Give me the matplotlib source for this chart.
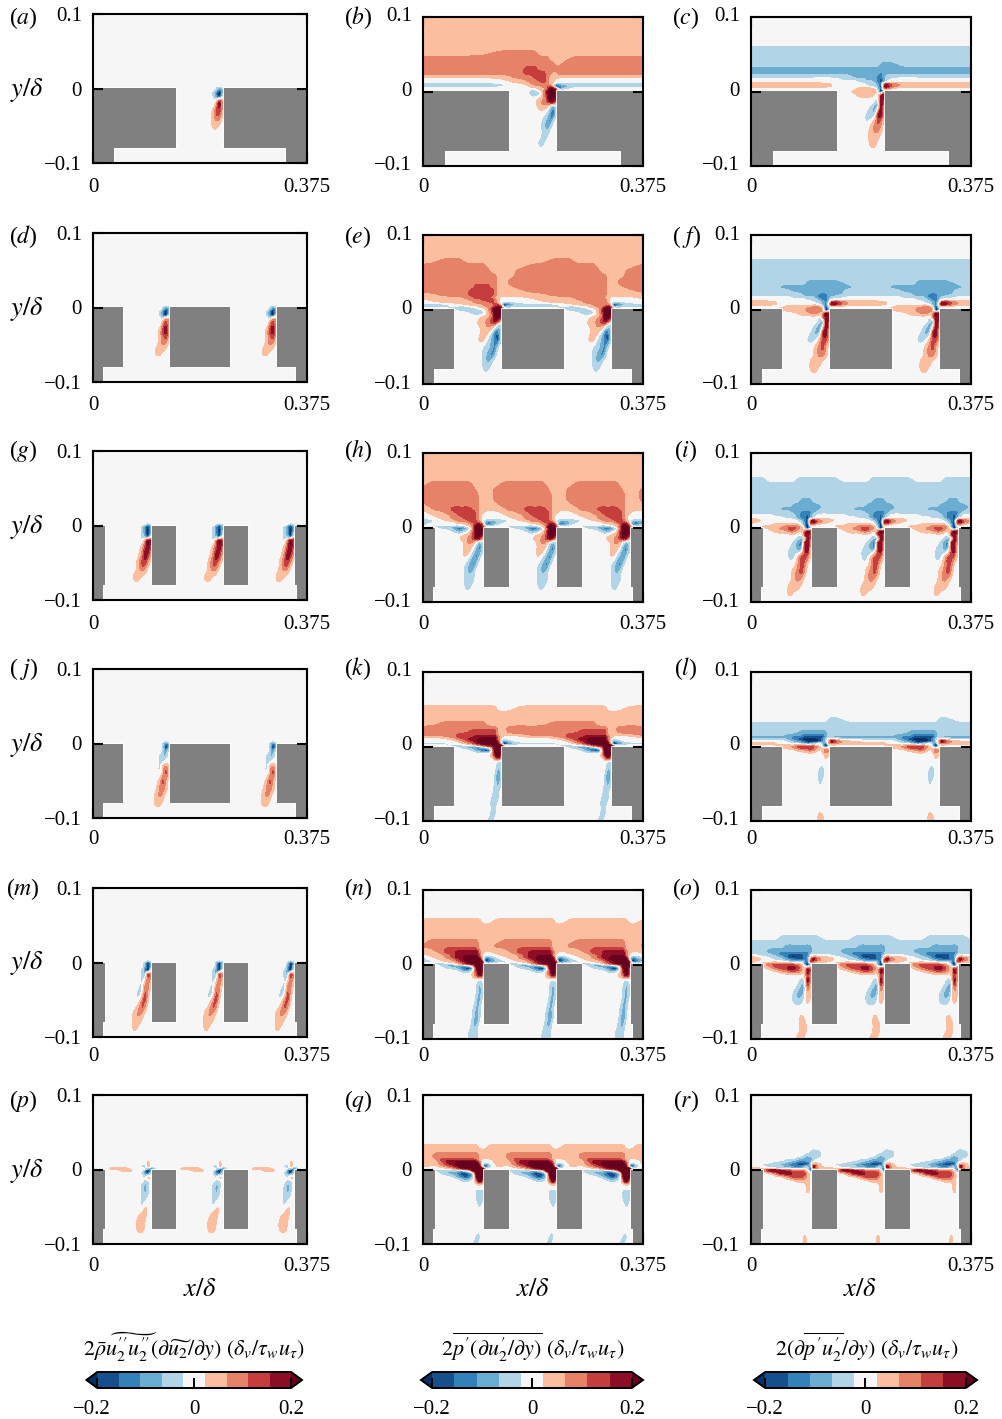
import matplotlib
matplotlib.use("Agg")
import matplotlib.pyplot as plt
import numpy as np
from matplotlib.colors import ListedColormap
from matplotlib.patches import Rectangle
from matplotlib.transforms import ScaledTranslation

plt.rcParams["font.family"] = ["Liberation Serif", "DejaVu Serif"]
plt.rcParams["mathtext.fontset"] = "stix"

W, H = 1003, 1419

# contour bands, colours from the colour bar
BAND_COLORS = ["#15508c", "#3480b9", "#6bacd1", "#b1d5e7", "#f6f6f6",
               "#fbbfa0", "#e58268", "#c53e3d", "#8c0d25"]
UNDER_COLOR = "#053061"
OVER_COLOR = "#67001f"
CBAR_TICKS = [-0.2, 0, 0.2]
CBAR_LABELS = ["\u22120.2", "0", "0.2"]

# wall normal positions of the rows in every field below
ROW_Y = [0.1, 0.072, 0.065, 0.058, 0.051, 0.044, 0.037, 0.03, 0.025, 0.02,
         0.016, 0.013, 0.01, 0.007, 0.004, 0.001, -0.001, -0.005, -0.01,
         -0.015, -0.02, -0.03, -0.04, -0.05, -0.06, -0.07, -0.08, -0.09, -0.1]

# columns relative to the slot centre, pixels of a 220 px wide panel
COLS_ONE = [-110, -80, -50, -35, -24, -18, -12, -6, -2, 2, 6, 10, 14, 17, 20, 23, 26, 32, 42, 60, 85]
COLS_TWO = [-55, -45, -35, -24, -18, -12, -6, -2, 2, 6, 10, 14, 17, 20, 23, 26, 32, 42]
COLS_THREE = [-36, -29, -24, -18, -12, -6, -2, 2, 6, 10, 14, 17, 20, 23, 26, 30]

# one period of each field, read off by eye
# 1-5 = red bands, a-e = blue bands, . = zero band, short rows are zero at the end
FIELD_A = [""] * 15 + [
    ".............aba", ".............acb", "............aceb", "............acea",
    ".............a21", "............a141", "............1331", "............122",
    "............11"]

FIELD_B = ["1" * 21] * 4 + [
    "111" + "2" * 7 + "1" * 11,
    "2" * 13 + "11111" + "222",
    "2" * 15 + "11" + "2222",
    "2222222" + "333" + "2" * 11,
    "2222222" + "33333" + "22" + "11" + "22222",
    "11111" + "2222" + "333" + "2" + "11111111",
    "....11122233211......",
    ".....111222" + "32" + "11......",
    "aaaa...112222" + "1." + "bb" + "aaaa",
    "aaaa....111" + "22" + "31dcb" + "aaa",
    "..........112" + "442ca...",
    "........aa.13553.....",
    "........aaa14553.....",
    "........aaa13553.....",
    "..........113553",
    "..........122331",
    "..........111aba",
    "............abda",
    "...........abca",
    "...........aba",
    "...........aa",
    "..........aa"]

FIELD_C = ["." * 21] * 3 + ["a" * 21] * 3 + [
    "a" * 14 + "bbbb" + "aaa",
    "b" * 21,
    "b" * 14 + "c" + "b" * 6,
    "aaaaaaa" + "bbbbbb" + "cc" + "b" + "aaaaa",
    "....." + "aaaaa" + "bbb" + "cdb" + "a" + "....",
    "........" + "aaaa" + "bcdb" + ".....",
    "1111" + "......" + "aaabc" + "232111",
    "1111" + "......" + ".aabd" + "342111",
    "........1111.ad22....",
    ".......111111aea.....",
    ".......111111.d2",
    "........1111..34",
    ".............a43",
    "............ab42",
    "...........abb41",
    "..........aab341",
    "..........a.132",
    "...........1221",
    "...........111",
    "...........11"]

FIELD_D = [""] * 15 + [
    "............aba", "............acb", "...........aceb", "...........acea",
    "............a21", "...........a131", "...........1341", "...........1231",
    "...........121", "..........11"]

FIELD_E = ["1" * 18] * 2 + [
    "11222" + "1" * 13,
    "2" * 10 + "1" * 8,
    "2" * 11 + "111111" + "2",
    "2" * 13 + "1111" + "2",
    "2" * 13 + "111" + "22",
    "2222222" + "3333" + "22" + "1111" + "2",
    "222222" + "333333" + "2" + "11111",
    "11" + "2222" + "333333" + "2" + "11111",
    "11111" + "22" + "3333" + "2" + "11" + "....",
    ".11111" + "222" + "333" + "2" + "1" + "....",
    ".." + "11111" + "2222" + "3" + "2" + "1" + "." + "aa" + ".",
    "aaa" + ".." + "1111" + "222" + "3" + "2" + "." + "dba",
    "aaa" + ".aa" + ".." + "11" + "22" + "343" + "caa",
    "..." + "aaaaa" + ".." + "1" + "3" + "55" + "4" + "...",
    "...." + "aaaaa" + "." + "1" + "3" + "55" + "4" + "...",
    "......aaaa12554",
    ".........11" + "2553",
    "........1123431",
    "........11222aa",
    ".........11acca",
    "........11abcda",
    ".........aabca",
    ".........abcb",
    ".........aba",
    ".........aa"]

FIELD_F = ["." * 18] * 2 + ["a" * 18] * 4 + [
    "a" * 8 + "b" * 9 + "a",
    "aaa" + "b" * 15,
    "aaaaa" + "b" * 12 + "a",
    "a" * 7 + "bbbb" + "ccc" + "bbb" + "a",
    "....." + "aaaaa" + "b" + "ccc" + "b" + "aa" + ".",
    "........" + "aaa" + "b" + "cc" + "b" + "...",
    "111" + "......." + "aa" + "bca" + "33" + "1",
    "111" + "........" + "abc" + "1431",
    "...." + "111111" + "21ada1" + "..",
    "..." + "11111" + "2222" + "1eb" + "...",
    "...." + "1111" + "2222" + "1ea",
    "......111221143",
    "...........a243",
    "...........ab43",
    "..........abb42",
    ".........abb341",
    "........aaa1331",
    "..........1231",
    "..........1221",
    ".........111",
    ".........11"]

FIELD_G = [""] * 15 + [
    "...........aca", "..........acdb", "..........aceb", "..........acea",
    "..........abd", "..........a243", "..........1342", "..........2431",
    ".........1331", ".........121", "........11"]

FIELD_H = ["1" * 16] * 3 + [
    "1222222222111111", "2222222222211111", "2222222222221111", "2222222222221111",
    "1222222222221111", "1122233333221111", ".11122333332" + "11..",
    "..11122333321...", "...1122233321...", "aa..112223321.ab", "aa....1112332.bc",
    "a.......112442cc", "..aaabbba.3553..", "...aabccba2554..", ".....abba.3554..",
    "........113553..", ".......1123431..", "........121aba..", "........11abca..",
    "........1abca...", "........abca....", "........aba.....", "........aaa.....",
    "........aa......"]

FIELD_I = ["." * 16] * 2 + [
    "aaa......aaaaaaa"] + ["a" * 16] * 3 + [
    "a" * 10 + "bbbb" + "aa",
    "a" * 8 + "b" * 8,
    "aaaaa" + "b" * 11,
    "a" * 8 + "bb" + "cccc" + "b" + "a",
    "...." + "aaaaa" + "b" + "cc" + "d" + "b" + "a" + ".",
    "......" + "aaa" + "b" + "cc" + "d" + "b" + "a" + ".",
    "11" + "......." + "abcd" + "232",
    "1" + "........." + "acd" + "342",
    "...." + "111111" + "abe" + "21.",
    ".." + "1111" + "2222" + "1bea" + "..",
    "..." + "11" + "22" + "33" + "21ae",
    "....11122" + "1.243",
    "..........a342",
    ".........abb42",
    "........abc341",
    ".......aabb34",
    ".......aa1332",
    ".........132",
    "........1231",
    "........121",
    ".......111",
    ".......1"]

FIELD_J = [""] * 15 + [
    "............aca", "............adb", "............aeb", "............ac",
    "...........aab", "...........aba", "...........a12", "...........a131",
    "...........131", "...........221", "..........121", "..........11"]

FIELD_K = ["." * 18] * 4 + [
    "1" * 13 + "...." + "1",
    "1" * 18, "1" * 18,
    "11" + "2" * 8 + "1" * 8,
    "2" * 13 + "111" + "22",
    "2" * 6 + "3" * 7 + "111" + "22",
    "2222" + "3" * 9 + "11111",
    "111" + "2" + "333" + "444444" + "2" + "1" + "...",
    "..." + "1" + "2" + "3" + "44" + "55555" + "2" + "." + "a" + "..",
    "...." + "1234" + "55555" + "3" + "." + "c" + "a" + ".",
    "aaa" + ".." + "1234" + "5555" + "4" + "." + "eba",
    "..." + "aaaa" + "." + "1234" + "555" + "...",
    "...." + "abbcba" + "." + "2" + "554",
    "......abcdda553",
    "...........1453",
    "............242",
    ".............aa",
    ".............ba",
    "............aca",
    "............aba",
    "............ba",
    "...........aaa",
    "...........aa",
    "...........aa",
    "..........aa"]

FIELD_L = ["." * 18] * 6 + [
    "." * 14 + "aaa" + ".",
    "a" * 18, "a" * 18,
    "a" * 6 + "b" * 8 + "aaaa",
    "aaaa" + "bbb" + "cccccc" + "b" + "aaaa",
    "bbbbb" + "cc" + "dddddd" + "b" + "a" + "bbb",
    "aaaa" + "bcd" + "eeee" + "dc" + "a." + "1aa",
    "...." + "abcd" + "eee" + "dc" + "a" + "1421",
    "111" + ".." + "aabcba" + "." + "ad" + "22" + "11",
    "..." + "111" + "2222" + "1." + "bea",
    "..." + "112333321.c1",
    "......" + "11221" + "." + "131",
    ".............11",
    ".............1",
    "",
    "...........aa",
    "...........aa",
    "...........a",
    "", "", "",
    "...........1",
    "...........11"]

FIELD_M = [""] * 15 + [
    "...........aca", "...........beb", "...........bea", "..........ace",
    "..........ab31", "..........aa31", "..........a22", ".........aa31",
    ".........a23", ".........131", "........121", "........11", "........1"]

FIELD_N = ["." * 16] * 3 + [
    "1" * 13 + "...",
    "1" * 16, "1" * 16, "1" * 16,
    "1" + "2" * 11 + "1111",
    "2" * 12 + "1111",
    "11" + "22" + "3" * 8 + "1111",
    "111" + "2" + "33" + "444444" + "2" + "1" + "..",
    "." + "111" + "2" + "3" + "444444" + "2" + "...",
    ".." + "11" + "2" + "3" + "44" + "5555" + "3" + "." + "bb",
    "a" + ".." + "11" + "234" + "55555" + "." + "dc",
    "aa" + ".." + "11" + "234" + "5555" + "3" + "dc",
    ".." + "aaa" + "." + "1234" + "4" + "55" + "4" + "." + "a",
    "..." + "abbbba" + "." + "2" + "554",
    "...." + "aabcdda" + "453",
    "......." + "aaa1353",
    ".........." + "1242",
    "............a",
    "...........aba",
    "...........aba",
    "...........bb",
    "..........aba",
    "..........aca",
    "..........bb",
    ".........aaa",
    ".........aaa"]

FIELD_O = [""] * 6 + [
    "....." + "a" * 11,
    "a" * 16,
    "a" * 6 + "b" * 8 + "aa",
    "aaa" + "b" * 11 + "aa",
    "aaa" + "bb" + "c" * 8 + "b" + "aa",
    "." + "aaa" + "b" + "cc" + "dddd" + "cc" + "a" + "." + "a",
    "1" + ".." + "aa" + "bcde" + "dd" + "cc" + "." + "21",
    "11" + ".." + "aa" + "b" + "cc" + "dd" + "cc" + "242",
    "1....." + "aabaabd321",
    ".." + "122222" + "11" + "." + "be",
    ".." + "1233333" + "21" + "ae",
    "..." + "12334432" + "." + "32",
    "....." + "11222" + "1." + "42",
    "............31",
    "..........aa41",
    ".........abb3",
    "........abba2",
    "........aaa.1",
    "",
    "..........1",
    "..........11",
    "..........11",
    ".........11"]

FIELD_P = [""] * 12 + [
    "............1", "...........a1", "..........ab2a",
    "...1111.....bcb",
    ".....111..." + "ceb",
    "..........acda",
    "...........a2",
    "...........aa",
    "..........aba",
    "..........aba",
    "..........aa",
    "..........a1",
    "..........11",
    ".........12",
    ".........11"]

FIELD_Q = [""] * 7 + [
    "1" * 12 + "..." + "1",
    "1" * 16,
    "11" + "2" * 10 + "1111",
    "11" + "2" * 10 + "1111",
    "111" + "3" * 8 + "21" + "...",
    "111" + "2" + "44" + "55555" + "42" + "...",
    "111" + "234" + "555555" + "3aca",
    "1.." + "1234" + "55555" + "4bda",
    "....." + "1234" + "4" + "5555" + "a.",
    ".." + "aaaaaa" + ".1" + "5555",
    "..." + "abbcddca" + "555",
    "....." + "abcdca" + "454",
    "......." + "aaa.252",
    "............1",
    "...........aaa",
    "...........aaa",
    "............a",
    "", "", "",
    "...........aa",
    "..........aa"]

FIELD_R = [""] * 8 + [
    ".............aaa",
    "..........." + "aaaaa",
    "........." + "aabbbaa",
    "......" + "aaa" + "bbbbb" + "a.",
    "...." + "aaa" + "bb" + "cccc" + "b..",
    ".." + "aaa" + "bb" + "cc" + "dddd" + "a21",
    "..." + "aaa" + "bb" + "ccc" + "bac41",
    "11" + "..." + "aaaaaaa" + ".d21",
    ".." + "2443322221" + ".d",
    "...." + "24443333" + "1",
    "......" + "1233321",
    "........." + "1111",
    "............1",
    "............1",
    "", "", "", "", "",
    "...........1",
    "...........1"]

FIELDS = [FIELD_A, FIELD_B, FIELD_C, FIELD_D, FIELD_E, FIELD_F, FIELD_G, FIELD_H, FIELD_I,
          FIELD_J, FIELD_K, FIELD_L, FIELD_M, FIELD_N, FIELD_O, FIELD_P, FIELD_Q, FIELD_R]
PANEL_NAMES = list("abcdefghijklmnopqr")
ROW_SLOTS = [1, 2, 3, 2, 3, 3]

# axes boxes in pixels: left, right per column, top per row for col 1 and col 2/3
COL_X = [(93, 307), (423, 643), (751, 971)]
TOP_FIRST = [14, 233, 451, 669, 888, 1095]
TOP_OTHER = [17, 235, 453, 672, 890, 1095]
AX_H = 149
XTICK_ROWS = [185, 403, 622, 837, 1054, 1264]
YLABEL_ROWS = [90, 309, 527, 745, 963, 1171]
LETTER_ROWS = [18, 237, 451, 669, 889, 1101]
LETTER_X = [23, 358, 686]

X_MAX = 0.375
SLOT_W = 0.083
BLOCK_Y = -0.08
CAVITY = {1: (0.037, 0.338), 2: (0.018, 0.356), 3: (0.017, 0.358)}
PX = 0.375 / 220

YTICKS = [-0.1, 0, 0.1]
YTICK_LABELS = ["\u22120.1", "0", "0.1"]
XTICKS = [0, 0.375]
XTICK_LABELS = ["0", "0.375"]

TITLES = [r"$2\bar{\rho}\widetilde{u_2^{\prime\prime}u_2^{\prime\prime}}(\partial\widetilde{u_2}/\partial y)\ (\delta_v/\tau_w u_\tau)$",
          r"$2\overline{p^{\prime}(\partial u_2^{\prime}/\partial y)}\ (\delta_v/\tau_w u_\tau)$",
          r"$2(\partial\overline{p^{\prime}u_2^{\prime}}/\partial y)\ (\delta_v/\tau_w u_\tau)$"]
TITLE_X = [194, 533, 867]
XLABEL_X = [200, 533, 860]
CBAR_X = [(86.5, 302), (421, 643), (754, 977)]
EXTEND_FRAC = 0.056

CHARS = {".": 0, "1": 1, "2": 2, "3": 3, "4": 4, "5": 5, "a": -1, "b": -2, "c": -3, "d": -4, "e": -5}
STEP = 0.4 / 9
SUB = 4

cmap = ListedColormap(BAND_COLORS)
cmap.set_under(UNDER_COLOR)
cmap.set_over(OVER_COLOR)
levels = np.linspace(-0.2, 0.2, 10)


def read_field(rows, ncols):
    rows = list(rows) + [""] * (len(ROW_Y) - len(rows))
    grid = [[CHARS[c] for c in r[:ncols].ljust(ncols, ".")] for r in rows]
    return np.array(grid, dtype=float) * STEP


def tile_field(rows, nslots, name):
    cols = {1: COLS_ONE, 2: COLS_TWO, 3: COLS_THREE}[nslots]
    period = X_MAX / nslots
    base = read_field(rows, len(cols))
    xs, zs = [], []
    for k in range(-1, nslots + 1):
        cell = base.copy()
        # panel (e): the strong lobe only shows above the first slot
        if name == "e" and k >= 1:
            upper = cell[:16]
            upper[np.isclose(upper, 3 * STEP)] = 2 * STEP
        xs.append((k + 0.5) * period + np.array(cols) * PX)
        zs.append(cell)
    return np.concatenate(xs), np.hstack(zs)


def refine(values, axis):
    # round the contour corners, curve goes through the read values
    values = np.moveaxis(values, axis, 0)
    n = values.shape[0]
    t = np.arange((n - 1) * SUB + 1) / SUB
    i = np.minimum(t.astype(int), n - 2)
    f = (t - i).reshape((-1,) + (1,) * (values.ndim - 1))
    p0, p1 = values[np.maximum(i - 1, 0)], values[i]
    p2, p3 = values[i + 1], values[np.minimum(i + 2, n - 1)]
    out = 0.5 * (2 * p1 + (p2 - p0) * f + (2 * p0 - 5 * p1 + 4 * p2 - p3) * f ** 2
                 + (3 * p1 - p0 - 3 * p2 + p3) * f ** 3)
    return np.moveaxis(out, 0, axis)


def box(values, taps, axis):
    kernel = np.ones(taps) / taps
    pad = taps // 2
    values = np.moveaxis(values, axis, 1)
    padded = np.pad(values, ((0, 0), (pad, pad)), mode="edge")
    out = np.array([np.convolve(r, kernel, mode="valid") for r in padded])
    return np.moveaxis(out, 1, axis)


def soften(z):
    # takes the stair steps out of the weak bands, strong jets stay as read
    soft = box(box(z, 7, 1), 5, 0)
    weight = np.clip((np.abs(z) / STEP - 2) / 2, 0, 1)
    return weight * z + (1 - weight) * soft


def fine_axis(values):
    pos = np.arange(len(values))
    return np.interp(np.arange((len(values) - 1) * SUB + 1) / SUB, pos, values)


def add_solid(ax, nslots):
    period = X_MAX / nslots
    cav_l, cav_r = CAVITY[nslots]
    rects = [(-0.01, -0.11, cav_l + 0.01, 0.03), (cav_r, -0.11, X_MAX - cav_r + 0.01, 0.03)]
    left = 0.0
    for k in range(nslots + 1):
        right = (k + 0.5) * period - SLOT_W / 2 if k < nslots else X_MAX
        rects.append((left, BLOCK_Y, right - left, -BLOCK_Y))
        left = right + SLOT_W
    # white rim first, grey on top so touching pieces merge
    for x, y, w, h in rects:
        ax.add_patch(Rectangle((x, y), w, h, fc="white", ec="white", lw=1.2, zorder=1.5))
    for x, y, w, h in rects:
        ax.add_patch(Rectangle((x, y), w, h, fc="#808080", ec="none", zorder=1.6))


def main():
    fig = plt.figure(figsize=(W / 100, H / 100), dpi=100)
    last_cs = None
    for i, (rows, name) in enumerate(zip(FIELDS, PANEL_NAMES)):
        row, col = divmod(i, 3)
        x0, x1 = COL_X[col]
        top = TOP_FIRST[row] if col == 0 else TOP_OTHER[row]
        ax = fig.add_axes([x0 / W, 1 - (top + AX_H) / H, (x1 - x0) / W, AX_H / H])
        nslots = ROW_SLOTS[row]
        x, z = tile_field(rows, nslots, name)
        z = soften(refine(refine(z, 0), 1))
        last_cs = ax.contourf(fine_axis(x), fine_axis(ROW_Y), z, levels=levels, cmap=cmap, extend="both", zorder=1)
        add_solid(ax, nslots)
        ax.set_xlim(0, X_MAX)
        ax.set_ylim(-0.1, 0.1)
        ax.set_xticks(XTICKS, XTICK_LABELS)
        ax.set_yticks(YTICKS, YTICK_LABELS)
        ax.set_axisbelow(False)
        ax.tick_params(direction="in", length=7, width=1.5, top=True, right=True, labelsize=15, pad=8)
        ax.tick_params(axis="x", pad=11)
        for s in ax.spines.values():
            s.set_linewidth(1.5)
            s.set_zorder(5)
        # tick labels sit on the same rows in all columns
        if col > 0:
            shift = ScaledTranslation(0, (top - TOP_FIRST[row]) / 100, fig.dpi_scale_trans)
            for lab in ax.get_yticklabels():
                lab.set_transform(lab.get_transform() + shift)
        shift = ScaledTranslation(0, (top + AX_H + 22 - XTICK_ROWS[row]) / 100, fig.dpi_scale_trans)
        for lab in ax.get_xticklabels():
            lab.set_transform(lab.get_transform() + shift)
        fig.text(LETTER_X[col] / W, 1 - LETTER_ROWS[row] / H,
                 "($\\mathit{%s}$)" % (name if name not in "fj" else "\\ " + name),
                 ha="center", va="center", fontsize=17)
        if col == 0:
            fig.text(27 / W, 1 - YLABEL_ROWS[row] / H, r"$y/\delta$", ha="center", va="center", fontsize=19)

    for col in range(3):
        fig.text(XLABEL_X[col] / W, 1 - 1290 / H, r"$x/\delta$", ha="center", va="center", fontsize=19)
        fig.text(TITLE_X[col] / W, 1 - 1347 / H, TITLES[col], ha="center", va="center", fontsize=15.8)
        cx0, cx1 = CBAR_X[col]
        cax = fig.add_axes([cx0 / W, 1 - 1388 / H, (cx1 - cx0) / W, 16 / H])
        cb = fig.colorbar(last_cs, cax=cax, orientation="horizontal", extend="both",
                          extendfrac=EXTEND_FRAC, ticks=CBAR_TICKS)
        cb.set_ticklabels(CBAR_LABELS)
        cb.ax.tick_params(direction="in", length=7, width=1.4, labelsize=15, pad=9)
        cb.outline.set_linewidth(1.4)
        if col == 0:
            lab = cb.ax.get_xticklabels()[0]
            lab.set_transform(lab.get_transform() + ScaledTranslation(-0.06, 0, fig.dpi_scale_trans))

    fig.savefig("out.png", dpi=100)


if __name__ == "__main__":
    main()
